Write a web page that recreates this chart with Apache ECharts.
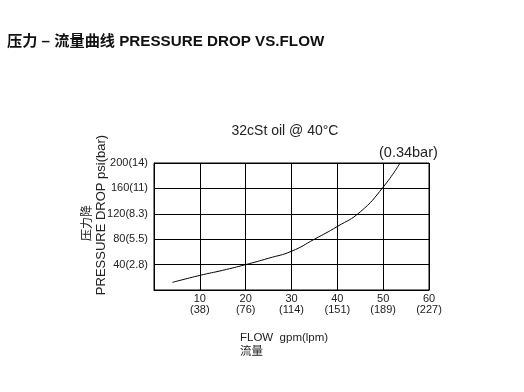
<!DOCTYPE html>
<html>
<head>
<meta charset="utf-8">
<script src="https://cdn.jsdelivr.net/npm/echarts@6/dist/echarts.min.js"></script>
<style>
html,body{margin:0;padding:0;background:#fff;}
#c{width:524px;height:392px;}
</style>
</head>
<body>
<div id="c"></div>
<script>
// Data
var flowGpm = [4, 10, 15, 20, 25, 30, 35, 40, 45, 50, 53.7];
var psi     = [12, 23, 31, 40, 50, 61, 80, 100, 123, 162, 200];
var xTickLabels = {10: '10\n(38)', 20: '20\n(76)', 30: '30\n(114)', 40: '40\n(151)', 50: '50\n(189)', 60: '60\n(227)'};
var yTickLabels = {40: '40(2.8)', 80: '80(5.5)', 120: '120(8.3)', 160: '160(11)', 200: '200(14)'};

var chart = echarts.init(document.getElementById('c'));
var FONT = '"Liberation Sans", Arial, "Noto Sans CJK SC", sans-serif';
chart.setOption({
  animation: false,
  textStyle: {fontFamily: FONT},
  title: {
    text: '压力 – 流量曲线 PRESSURE DROP VS.FLOW',
    left: 7, top: 34, padding: 0,
    textStyle: {fontSize: 15.2, fontWeight: 'bold', color: '#111', fontFamily: FONT}
  },
  grid: {
    left: 154, top: 163, width: 275, height: 127,
    show: true, borderColor: '#000', borderWidth: 1
  },
  xAxis: {
    type: 'value', min: 0, max: 60, interval: 10,
    axisLine: {show: true, lineStyle: {color: '#000', width: 1}},
    axisTick: {show: false},
    splitLine: {show: true, lineStyle: {color: '#000', width: 1}},
    axisLabel: {
      color: '#222', fontSize: 11, lineHeight: 11, margin: 3,
      formatter: function (v) { return xTickLabels[v] || ''; }
    }
  },
  yAxis: {
    type: 'value', min: 0, max: 200, interval: 40,
    axisLine: {show: true, lineStyle: {color: '#000', width: 1}},
    axisTick: {show: false},
    splitLine: {show: true, lineStyle: {color: '#000', width: 1}},
    axisLabel: {
      color: '#222', fontSize: 11, margin: 6,
      formatter: function (v) { return yTickLabels[v] || ''; }
    }
  },
  graphic: [
    {type: 'text', style: {text: '32cSt oil @ 40°C', x: 285, y: 124, align: 'center', fontSize: 14, fill: '#222', fontFamily: FONT}},
    {type: 'text', style: {text: '(0.34bar)', x: 379, y: 146, fontSize: 14.5, fill: '#222', fontFamily: FONT}},
    {type: 'text', style: {text: 'FLOW  gpm(lpm)\n流量', x: 240, y: 331, fontSize: 11.5, lineHeight: 14, fill: '#222', fontFamily: FONT}},
    {type: 'text', x: 101.5, y: 215, rotation: Math.PI / 2,
     style: {text: 'PRESSURE DROP psi(bar)', align: 'center', verticalAlign: 'middle', fontSize: 13, fill: '#222', fontFamily: FONT}},
    {type: 'text', x: 87.5, y: 223, rotation: Math.PI / 2,
     style: {text: '压力降', align: 'center', verticalAlign: 'middle', fontSize: 12, fill: '#222', fontFamily: FONT}}
  ],
  series: [{
    type: 'line',
    data: flowGpm.map(function (x, i) { return [x, psi[i]]; }),
    smooth: 0.5,
    symbol: 'none',
    lineStyle: {color: '#000', width: 1},
    clip: false
  }]
});
</script>
</body>
</html>
